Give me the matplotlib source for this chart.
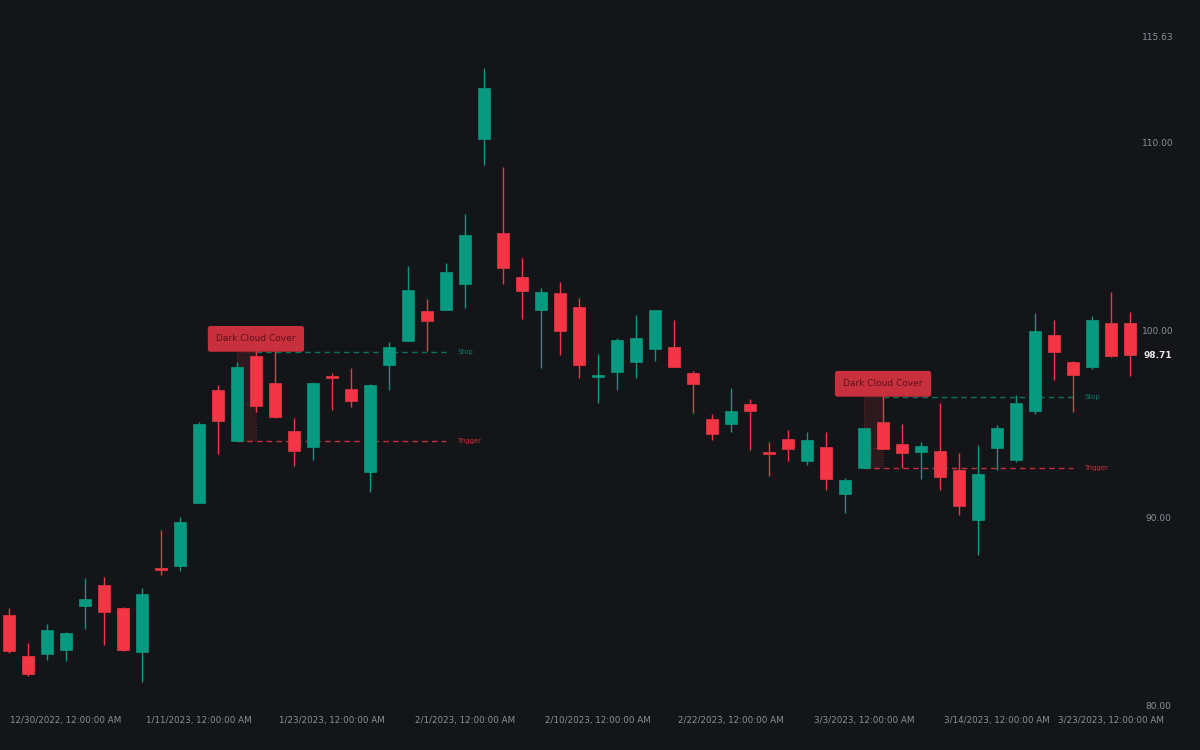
import matplotlib
matplotlib.use("Agg")
import matplotlib.pyplot as plt
from matplotlib.patches import Rectangle

opens  = [84.89,82.71,82.82,83.03,85.37,86.49,85.27,82.93,87.39,87.50,90.85,96.86,94.15,98.67,97.23,94.68,93.83,97.55,96.91,92.50,
          98.19,99.47,101.06,101.12,102.50,110.21,105.21,102.87,101.12,102.02,101.28,97.55,97.82,98.35,99.04,99.15,97.77,95.32,95.05,96.12,
          93.51,94.26,93.09,93.83,91.33,92.71,95.16,93.99,93.56,93.62,92.61,89.95,93.78,93.14,95.74,99.79,98.35,98.09,100.43,100.43]
highs  = [85.27,83.40,84.41,83.99,86.86,86.91,85.32,86.33,89.41,90.11,95.16,97.13,98.35,98.88,99.26,95.37,97.29,97.77,98.03,97.18,
          99.41,103.46,101.70,103.62,106.22,113.99,108.72,103.88,102.29,102.61,101.76,98.78,99.63,100.85,101.12,100.59,97.87,95.59,96.97,96.38,
          94.10,94.73,94.63,94.63,92.18,94.84,96.49,95.05,94.10,96.17,93.51,93.94,95.00,96.60,100.96,100.59,98.40,100.80,102.07,101.01]
lows   = [82.87,81.65,82.50,82.45,84.15,83.30,82.98,81.33,87.02,87.23,90.85,93.46,94.15,95.69,95.37,92.82,93.14,95.80,95.96,91.44,
          96.86,99.47,98.94,101.12,101.22,108.83,102.50,100.64,98.03,98.72,97.50,96.17,96.86,97.50,98.40,98.09,95.64,94.20,94.63,93.67,
          92.29,93.09,92.87,91.54,90.32,92.71,93.72,92.71,92.13,91.54,90.21,88.09,92.61,93.03,95.59,97.39,95.69,97.98,98.62,97.61]
closes = [82.98,81.76,84.10,83.94,85.74,85.05,83.03,86.01,87.29,89.84,95.05,95.21,98.09,96.01,95.43,93.62,97.23,97.50,96.28,97.13,
          99.15,102.18,100.53,103.14,105.11,112.93,103.35,102.13,102.07,100.00,98.19,97.61,99.52,99.63,101.12,98.09,97.18,94.52,95.74,95.74,
          93.46,93.72,94.20,92.13,92.07,94.84,93.72,93.51,93.88,92.23,90.69,92.39,94.84,96.17,100.00,98.88,97.66,100.59,98.67,98.71]
xtick_idx = [3, 10, 17, 24, 31, 38, 45, 52, 58]
xtick_labels = ["12/30/2022, 12:00:00 AM", "1/11/2023, 12:00:00 AM", "1/23/2023, 12:00:00 AM",
                "2/1/2023, 12:00:00 AM", "2/10/2023, 12:00:00 AM", "2/22/2023, 12:00:00 AM",
                "3/3/2023, 12:00:00 AM", "3/14/2023, 12:00:00 AM", "3/23/2023, 12:00:00 AM"]
ytick_vals = [80.00, 90.00, 100.00, 110.00, 115.63]
pattern_idx = [13, 46]  # bearish candle of each Dark Cloud Cover

BG = "#141519"; UP = "#089981"; DN = "#f23645"; TXT = "#8b8f99"

fig = plt.figure(figsize=(12, 7.5), dpi=100)
fig.patch.set_facecolor(BG)
ax = fig.add_axes([0, 0, 1, 1])
ax.set_facecolor(BG)
ax.set_xlim(-0.47, 62.68)
ax.set_ylim(77.71, 117.61)
ax.axis("off")

w = 0.63
for i, (o, h, l, c) in enumerate(zip(opens, highs, lows, closes)):
    col = UP if c >= o else DN
    ax.vlines(i, l, h, color=col, lw=1, zorder=2)
    bh = max(abs(c - o), 0.1)
    ax.add_patch(Rectangle((i - w / 2, min(o, c)), w, bh, facecolor=col, edgecolor=col, lw=0.5, zorder=3))

for p in pattern_idx:
    a = p - 1
    stop = highs[p]
    trig = opens[a]
    mid = (opens[a] + closes[a]) / 2
    ax.add_patch(Rectangle((a, trig), 1, stop - trig, facecolor=DN, alpha=0.12, edgecolor="none", zorder=1))
    ax.add_patch(Rectangle((a, trig), 1, stop - trig, facecolor="none", edgecolor="#5a2328", lw=0.8, ls=":", zorder=1))
    ax.hlines(mid, a, p, colors="#7a2a30", lw=0.8, ls=":", zorder=1)
    ax.hlines(stop, p, p + 10, colors=UP, lw=1, ls=(0, (4, 3)), alpha=0.7, zorder=1)
    ax.hlines(trig, a, p + 10, colors=DN, lw=1, ls=(0, (4, 3)), alpha=0.8, zorder=1)
    ax.text(p + 10.6, stop, "Stop", color=UP, fontsize=5, va="center", ha="left", alpha=0.8)
    ax.text(p + 10.6, trig, "Trigger", color=DN, fontsize=5, va="center", ha="left", alpha=0.8)
    ax.annotate("Dark Cloud Cover", xy=(p, stop), xytext=(0, 9.5), textcoords="offset points",
                ha="center", va="center", fontsize=6.5, color="#5c1218", zorder=5,
                bbox=dict(boxstyle="round,pad=0.85,rounding_size=0.2", fc="#c9303e", ec="#c9303e"))
    ax.plot([p], [stop + 0.22], marker="v", ms=6, color="#c9303e", zorder=4)

for v in ytick_vals:
    ax.text(60.47, v, f"{v:.2f}", color=TXT, fontsize=6.5, ha="center", va="center")
ax.text(60.47, closes[-1], f"{closes[-1]:.2f}", color="#e6e6e6", fontsize=6.5, ha="center", va="center", fontweight="bold")

for i, lab in zip(xtick_idx, xtick_labels):
    ax.text(i, 79.26, lab, color=TXT, fontsize=6.3, ha="center", va="center")

fig.savefig("out.png", dpi=100, facecolor=BG)
